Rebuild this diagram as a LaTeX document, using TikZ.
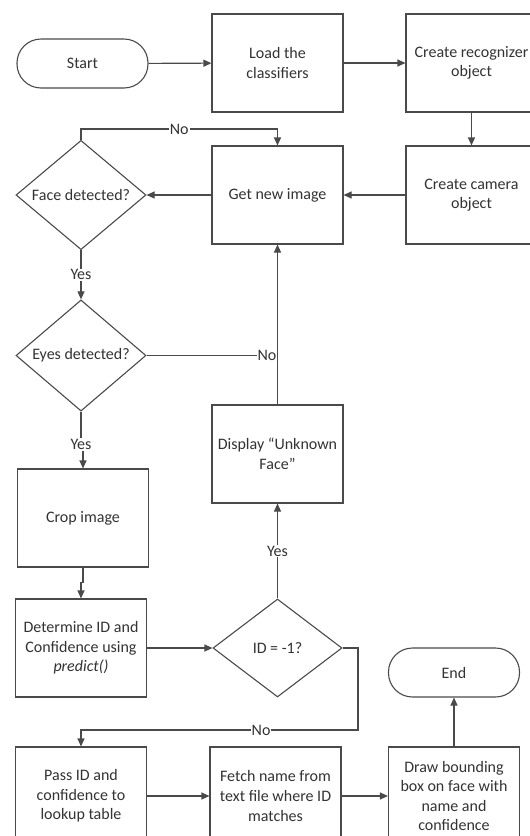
\documentclass[tikz,border=0pt]{standalone}
\usepackage{fontspec}
\setmainfont{Carlito}
\usetikzlibrary{arrows.meta,shapes.geometric}
\definecolor{ln}{HTML}{4A4A4A}
\definecolor{tx}{HTML}{333333}
\begin{document}
\begin{tikzpicture}[x=1pt,y=-1pt,
 font=\fontsize{16}{19.6}\selectfont, text=tx,
 box/.style={draw=ln, line width=1.1pt, minimum width=131pt, minimum height=98pt, align=center, inner sep=0pt},
 term/.style={draw=ln, line width=1.1pt, minimum width=131pt, minimum height=49pt, rounded corners=24pt, align=center},
 dec/.style={diamond, draw=ln, line width=1.1pt, minimum width=130pt, minimum height=98pt, inner sep=0pt, align=center},
 arr/.style={draw=ln, line width=1.1pt, -{Triangle[length=8pt,width=7pt]}},
 lnk/.style={draw=ln, line width=1.1pt},
 lbl/.style={fill=white, inner sep=1pt}]
\path[fill=white, use as bounding box] (0,0) rectangle (530,836);

\node[term] (start) at (82.5,63.5) {Start};
\node[box] (load) at (277.5,63) {Load the\\classifiers};
\node[box] (recog) at (471.5,63) {Create recognizer\\object};
\node[box] (camera) at (471.5,195) {Create camera\\object};
\node[box] (getimg) at (277.5,195) {Get new image};
\node[dec] (face) at (81,195) {Face detected?};
\node[dec] (eyes) at (81,355.5) {Eyes detected?};
\node[box] (crop) at (83,518) {Crop image};
\node[box] (display) at (277.5,454) {Display “Unknown\\Face”};
\node[box] (determine) at (81,648) {Determine ID and\\Confidence using\\\textit{predict()}};
\node[dec, minimum width=129pt] (id) at (277.5,648) {ID = -1?};
\node[term] (end) at (454,672.5) {End};
\node[box] (pass) at (81,796) {Pass ID and\\confidence to\\lookup table};
\node[box] (fetch) at (275.5,796) {Fetch name from\\text file where ID\\matches};
\node[box] (drawb) at (454,796) {Draw bounding\\box on face with\\name and\\confidence};

\coordinate (c1) at (81,129);
\coordinate (j1) at (277.5,355.5);
\coordinate (c3) at (358,730);

\draw[arr] (start) -- (load);
\draw[arr] (load) -- (recog);
\draw[arr] (recog) -- (camera);
\draw[arr] (camera) -- (getimg);
\draw[arr] (getimg) -- (face);
\draw[arr] (face.north) -- (c1) -| node[lbl, pos=0.25] {No} (getimg.north);
\draw[arr] (face.south) -- node[lbl] {Yes} (eyes.north);
\draw[lnk] (eyes.east) -- node[lbl, pos=0.92] {No} (j1);
\draw[arr] (display.north) -- (getimg.south);
\draw[arr] (eyes.south) -- ++(0,33) node[lbl] {Yes} -| (crop.north);
\draw[arr] (crop.south) -- ++(0,15) -| (determine.north);
\draw[arr] (determine.east) -- (id.west);
\draw[arr] (id.north) -- node[lbl] {Yes} (display.south);
\draw[arr] (id.east) -| (c3) -| node[lbl, pos=0.175] {No} (pass.north);
\draw[arr] (pass) -- (fetch);
\draw[arr] (fetch) -- (drawb);
\draw[arr] (drawb.north) -- (end.south);
\end{tikzpicture}
\end{document}
